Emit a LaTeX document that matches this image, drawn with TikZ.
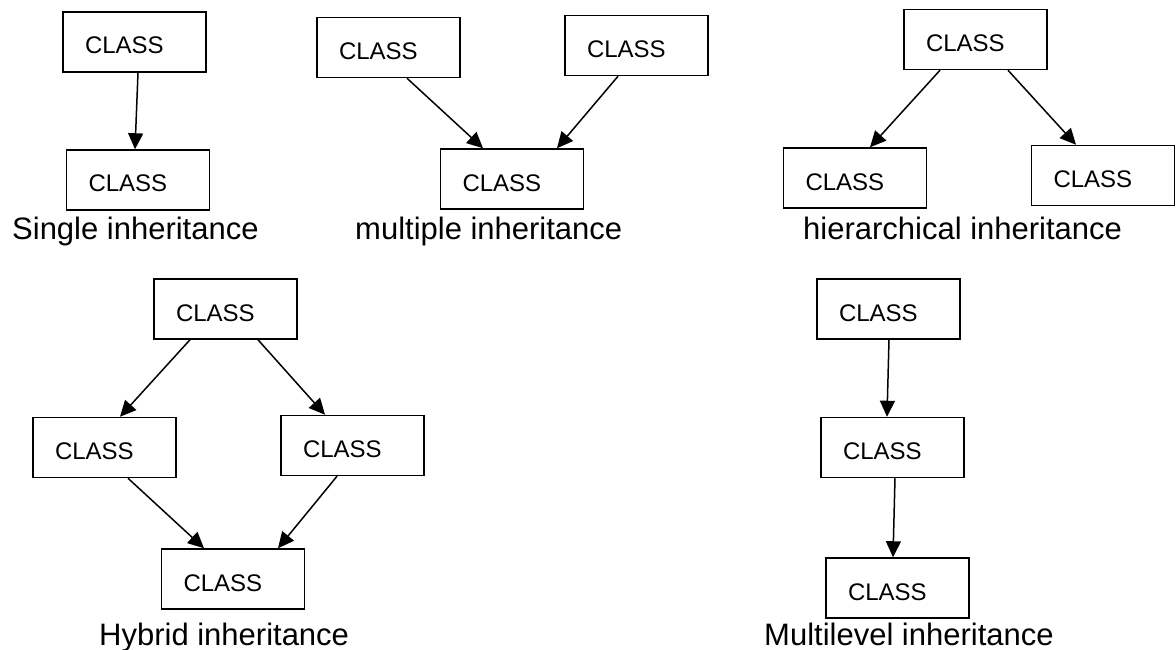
\documentclass[tikz,border=0pt]{standalone}
\usepackage{fontspec}
\setmainfont{Liberation Sans}
\usepackage{tikz}
\usetikzlibrary{arrows.meta}

\begin{document}
\begin{tikzpicture}[x=1pt, y=-1pt,
    cls/.style={draw, line width=1.5pt, minimum width=143pt, minimum height=60pt,
      inner xsep=22pt, text width=99pt, align=left, text height=24pt, text depth=0pt,
      font=\fontsize{24}{24}\selectfont},
    lbl/.style={anchor=base west, inner sep=0pt, font=\fontsize{31}{31}\selectfont},
    arr/.style={line width=1.5pt, -{Triangle[width=15pt,length=16pt]}}]
  \useasboundingbox (0,0) rectangle (1176,650);
  \node[cls] (s1) at (134.5,42) {CLASS};
  \node[cls] (s2) at (138,180) {CLASS};
  \node[cls] (m1) at (388.5,47.5) {CLASS};
  \node[cls] (m2) at (636.5,45.5) {CLASS};
  \node[cls] (m3) at (512,179) {CLASS};
  \node[cls] (h1) at (975.5,39.5) {CLASS};
  \node[cls] (h2) at (855,178) {CLASS};
  \node[cls] (h3) at (1103,175.5) {CLASS};
  \node[cls] (y1) at (225.5,309) {CLASS};
  \node[cls] (y2) at (104.5,447.5) {CLASS};
  \node[cls] (y3) at (352.5,445.5) {CLASS};
  \node[cls] (y4) at (233,579) {CLASS};
  \node[cls] (l1) at (888.5,309) {CLASS};
  \node[cls] (l2) at (892.5,447.5) {CLASS};
  \node[cls] (l3) at (897.5,588) {CLASS};
  \draw[arr] ([xshift=3.5pt]s1.south) -- ([xshift=-3pt]s2.north);
  \draw[arr] ([xshift=18.5pt]m1.south) -- ([xshift=-29pt]m3.north);
  \draw[arr] ([xshift=-18.5pt]m2.south) -- ([xshift=45pt]m3.north);
  \draw[arr] ([xshift=-35.5pt]h1.south) -- ([xshift=15pt]h2.north);
  \draw[arr] ([xshift=32.5pt]h1.south) -- ([xshift=-27pt]h3.north);
  \draw[arr] ([xshift=-35.5pt]y1.south) -- ([xshift=15.5pt]y2.north);
  \draw[arr] ([xshift=32.5pt]y1.south) -- ([xshift=-27.5pt]y3.north);
  \draw[arr] ([xshift=23.5pt]y2.south) -- ([xshift=-29pt]y4.north);
  \draw[arr] ([xshift=-15.5pt]y3.south) -- ([xshift=45pt]y4.north);
  \draw[arr] ([xshift=0.5pt]l1.south) -- ([xshift=-5.5pt]l2.north);
  \draw[arr] ([xshift=2.5pt]l2.south) -- ([xshift=-4.5pt]l3.north);
  \node[lbl] (single) at (12,240) {Single inheritance};
  \node[lbl] (multiple) at (355,240) {multiple inheritance};
  \node[lbl] (hier) at (803,240) {hierarchical inheritance};
  \node[lbl] (hybrid) at (99,645) {Hybrid inheritance};
  \node[lbl] (multilevel) at (764,645) {Multilevel inheritance};
\end{tikzpicture}
\end{document}
